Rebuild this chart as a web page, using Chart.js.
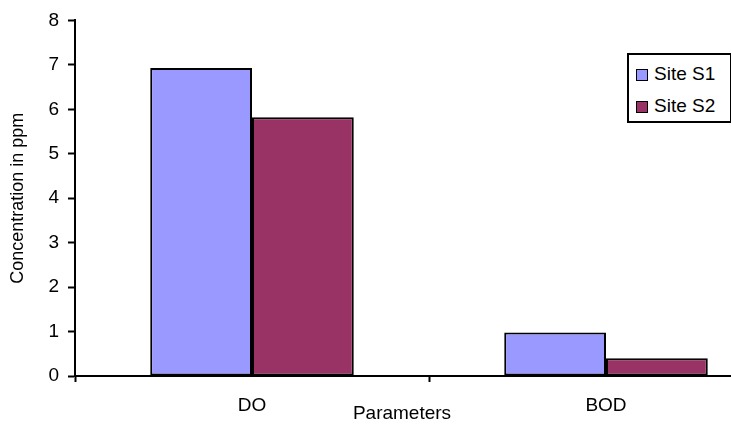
<!DOCTYPE html>
<html>
<head>
<meta charset="utf-8">
<script src="https://cdn.jsdelivr.net/npm/chart.js@4"></script>
<style>
    body { margin: 0; background: #fff; font-family: 'Liberation Sans', Arial, sans-serif; }
    #frame { position: relative; width: 731px; height: 428px; overflow: hidden; }
    #chartBox { position: absolute; left: 0; top: 0; width: 790px; height: 428px; }
    #legend { position: absolute; left: 627px; top: 53px; width: 101px; height: 66px; border: 2px solid #000; background: #fff; }
    .item { position: absolute; left: 7px; font-size: 19px; line-height: 20px; color: #000; }
    .swatch { display: inline-block; width: 10px; height: 10px; border: 1.5px solid #000; margin-right: 6px; vertical-align: -1px; }
</style>
</head>
<body>
<div id="frame">
    <div id="chartBox"><canvas id="myChart"></canvas></div>
    <div id="legend"></div>
</div>
<script>
let categories = ['DO', 'BOD'];
let siteS1 = [6.93, 0.98];
let siteS2 = [5.82, 0.40];
let seriesNames = ['Site S1', 'Site S2'];
let seriesColors = ['#9999FF', '#993366'];
let yTitle = 'Concentration in ppm';
let xTitle = 'Parameters';
let fontFamily = '"Liberation Sans", Arial, sans-serif';


function showLegend() {
    let legend = document.getElementById('legend');
    legend.innerHTML = '';
    for (let index = 0; index < seriesNames.length; index++) {
        legend.innerHTML += `
            <div class="item" style="top:${9 + index * 32}px">
                <span class="swatch" style="background:${seriesColors[index]}"></span>${seriesNames[index]}
            </div>
        `;
    }
}


// x title sits in the middle of the visible part of the plot
let xTitlePlugin = {
    id: 'xTitlePlugin',
    afterDraw(chart) {
        let ctx = chart.ctx;
        let area = chart.chartArea;
        ctx.save();
        ctx.font = '19px ' + fontFamily;
        ctx.fillStyle = '#000';
        ctx.textAlign = 'center';
        ctx.textBaseline = 'middle';
        ctx.fillText(xTitle, (area.left + 729) / 2, area.bottom + 38);
        ctx.restore();
    }
};


function showChart() {
    let ctx = document.getElementById('myChart').getContext('2d');
    new Chart(ctx, {
        type: 'bar',
        data: {
            labels: categories,
            datasets: [{
                label: seriesNames[0],
                data: siteS1,
                backgroundColor: seriesColors[0],
                borderColor: '#000',
                borderWidth: 2,
                borderSkipped: false
            }, {
                label: seriesNames[1],
                data: siteS2,
                backgroundColor: seriesColors[1],
                borderColor: '#000',
                borderWidth: 2,
                borderSkipped: false
            }]
        },
        plugins: [xTitlePlugin],
        options: {
            responsive: true,
            maintainAspectRatio: false,
            animation: false,
            datasets: {
                bar: { categoryPercentage: 0.575, barPercentage: 1 }
            },
            layout: { padding: { top: 18, right: 7, bottom: 0, left: 0 } },
            plugins: {
                legend: { display: false },
                tooltip: { enabled: false }
            },
            scales: {
                x: {
                    offset: true,
                    afterFit: (scale) => { scale.height = 52; },
                    grid: {
                        offset: true,
                        drawOnChartArea: false,
                        tickLength: 6,
                        tickColor: '#000',
                        tickWidth: 2
                    },
                    border: { color: '#000', width: 2 },
                    ticks: {
                        color: '#000',
                        padding: 12,
                        font: { family: fontFamily, size: 19 }
                    }
                },
                y: {
                    min: 0,
                    max: 8,
                    afterFit: (scale) => { scale.width = 75; },
                    grid: {
                        drawOnChartArea: false,
                        tickLength: 7,
                        tickColor: '#000',
                        tickWidth: 2
                    },
                    border: { color: '#000', width: 2 },
                    ticks: {
                        stepSize: 1,
                        color: '#000',
                        padding: 9,
                        font: { family: fontFamily, size: 19 }
                    },
                    title: {
                        display: true,
                        text: yTitle,
                        color: '#000',
                        padding: { top: 7, bottom: 0 },
                        font: { family: fontFamily, size: 18 }
                    }
                }
            }
        }
    });
}


showLegend();
showChart();
</script>
</body>
</html>
